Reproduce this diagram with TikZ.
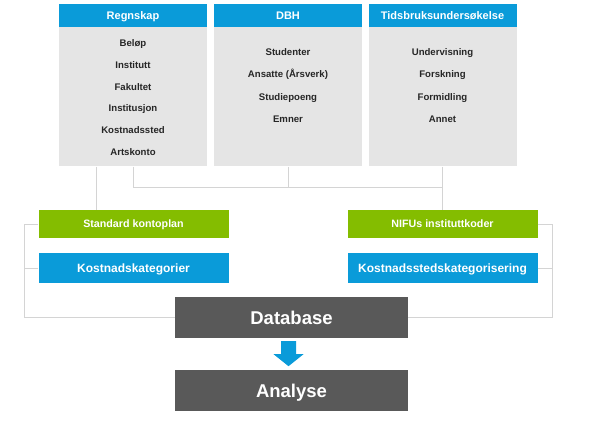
\documentclass[tikz,border=0pt]{standalone}
\usepackage{fontspec}
\setmainfont{Liberation Sans}
\usetikzlibrary{positioning}

\definecolor{hodeblaa}{HTML}{0A9BD9}
\definecolor{kontogronn}{HTML}{84BD00}
\definecolor{boksgraa}{HTML}{E5E5E5}
\definecolor{morkgraa}{HTML}{595959}
\definecolor{linjegraa}{HTML}{D4D4D4}

\tikzset{
  kilde/.style={text height=7.9pt, text depth=0pt, fill=hodeblaa, text=white,
    font=\bfseries\fontsize{11}{13}\selectfont,
    minimum width=148pt, minimum height=23pt, inner sep=0pt},
  kildekropp/.style={fill=boksgraa, minimum width=148pt, minimum height=139pt, inner sep=0pt},
  punkt/.style={text height=6.9pt, text depth=0pt, font=\bfseries\fontsize{9.6}{11}\selectfont,
    text=black!85, inner sep=0pt},
  koder/.style={text height=7.7pt, text depth=0pt, fill=kontogronn, text=white,
    font=\bfseries\fontsize{10.7}{12}\selectfont,
    minimum width=190pt, minimum height=28pt, inner sep=0pt},
  kategori/.style={text height=8.6pt, text depth=0pt, fill=hodeblaa, text=white,
    font=\bfseries\fontsize{12}{14}\selectfont,
    minimum width=190pt, minimum height=30pt, inner sep=0pt},
  resultat/.style={text height=13.3pt, text depth=0pt, fill=morkgraa, text=white,
    font=\bfseries\fontsize{18.5}{22}\selectfont,
    minimum width=233pt, minimum height=41pt, inner sep=0pt},
  linje/.style={draw=linjegraa, line width=1pt}
}

\begin{document}
\begin{tikzpicture}[x=1pt, y=-1pt]
  \useasboundingbox (0,0) rectangle (602,422);
  % Kildene
  \node[kilde] (regnskap) at (133,15.5) {Regnskap};
  \node[kildekropp, below=0pt of regnskap] (regnskapkropp) {};
  \node[kilde] (dbh) at (288,15.5) {DBH};
  \node[kildekropp, below=0pt of dbh] (dbhkropp) {};
  \node[kilde] (tids) at (442.5,15.5) {Tidsbruksundersøkelse};
  \node[kildekropp, below=0pt of tids] (tidskropp) {};
  % Innhold i kildene
  \foreach \tekst [count=\i] in {Beløp, Institutt, Fakultet, Institusjon, Kostnadssted, Artskonto}
    \node[punkt] (regnskap\i) at (133,21.8*\i+21.2) {\tekst};
  \foreach \tekst [count=\i] in {Studenter, Ansatte (Årsverk), Studiepoeng, Emner}
    \node[punkt] (dbh\i) at (288,22.3*\i+29.7) {\tekst};
  \foreach \tekst [count=\i] in {Undervisning, Forskning, Formidling, Annet}
    \node[punkt] (tids\i) at (442.5,22.3*\i+29.7) {\tekst};
  % Koder og kategorier
  \node[koder] (kontoplan) at (133.5,224) {Standard kontoplan};
  \node[kategori] (kategorier) at (133.5,268) {Kostnadskategorier};
  \node[koder] (nifu) at (442.5,224) {NIFUs instituttkoder};
  \node[kategori] (stedkategorier) at (442.5,268) {Kostnadsstedskategorisering};
  % Database og analyse
  \node[resultat] (database) at (291.5,317.5) {Database};
  \node[resultat] (analyse) at (291.5,390.5) {Analyse};
  % Linjer fra kildene
  \coordinate (samle) at (133,188);
  \coordinate (venstrekant) at (24,0);
  \coordinate (hoyrekant) at (552,0);
  \draw[linje] ([xshift=-37pt]regnskapkropp.south) -- ([xshift=-37pt]regnskapkropp.south |- kontoplan.north);
  \draw[linje] (regnskapkropp.south) -- (samle) -- (samle -| tidskropp.south);
  \draw[linje] (dbhkropp.south) -- (dbhkropp.south |- samle);
  \draw[linje] (tidskropp.south) -- (nifu.north);
  % Klammer inn mot databasen
  \draw[linje] (kontoplan.west) -- (kontoplan.west -| venstrekant) |- (database.west);
  \draw[linje] (kategorier.west) -- (kategorier.west -| venstrekant);
  \draw[linje] (nifu.east) -- (nifu.east -| hoyrekant) |- (database.east);
  \draw[linje] (stedkategorier.east) -- (stedkategorier.east -| hoyrekant);
  % Pil
  \coordinate (pil) at ([xshift=-3pt]database.south);
  \fill[hodeblaa] (pil) ++(-7.5,3) -- ++(15,0) -- ++(0,13) -- ++(7.5,0) -- ++(-15,12)
    -- ++(-15,-12) -- ++(7.5,0) -- cycle;
\end{tikzpicture}
\end{document}
